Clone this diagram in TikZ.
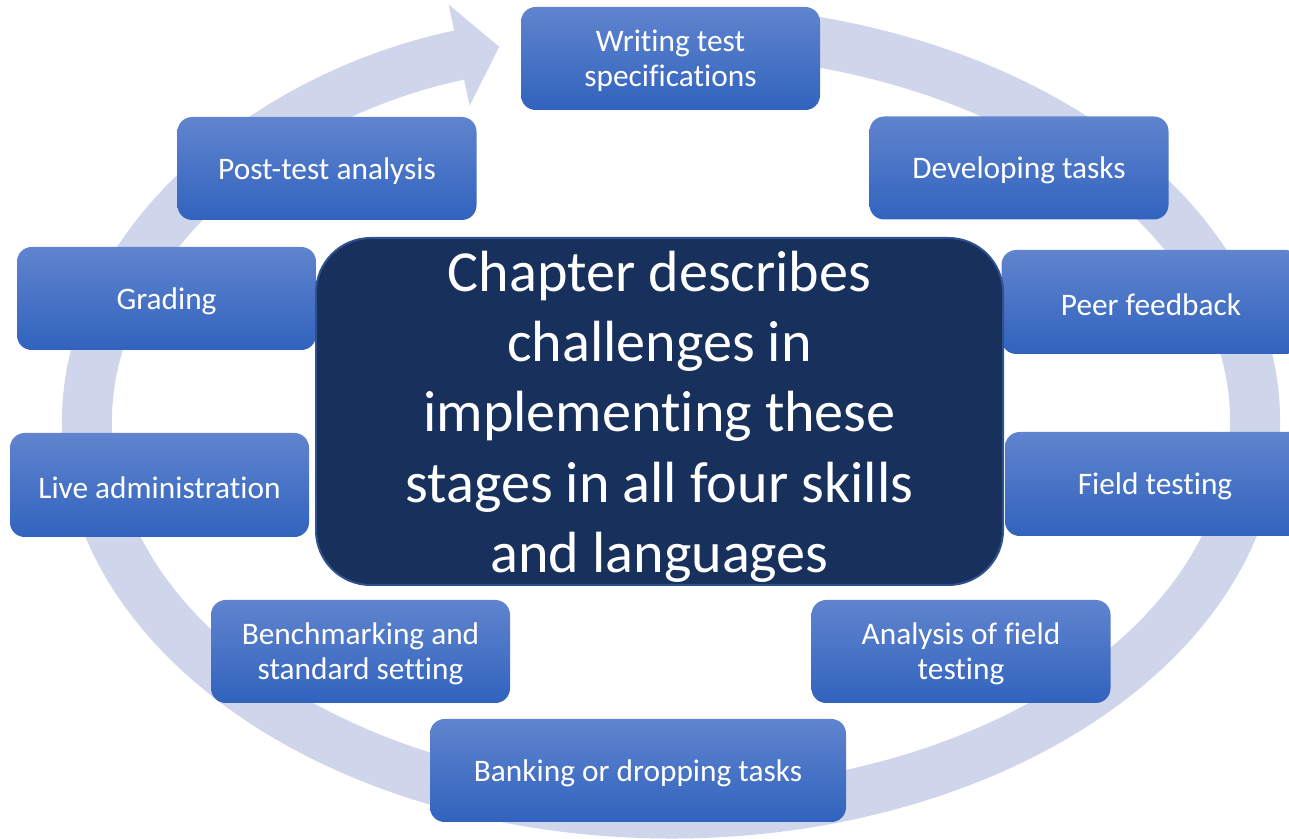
\documentclass[tikz,border=0pt]{standalone}
\usepackage{fontspec}
\setmainfont{Carlito}[Ligatures=NoCommon]
\usetikzlibrary{arrows.meta}
\definecolor{ringc}{RGB}{207,213,234}
\definecolor{boxtop}{RGB}{96,132,206}
\definecolor{boxbot}{RGB}{49,99,190}
\definecolor{navy}{RGB}{23,48,92}
\definecolor{navyedge}{RGB}{47,82,143}
% tall strut that pushes the first text line down a little
\newcommand\toplift[1]{\rule{0pt}{#1}}
\begin{document}
\begin{tikzpicture}[x=0.75pt,y=0.75pt,
  stage/.style={rounded corners=11pt, top color=boxtop, bottom color=boxbot,
    text=white, align=center, inner sep=0pt,
    font=\fontsize{23.5pt}{26pt}\selectfont,
    execute at begin node={\rule{0pt}{20pt}},
    minimum width=224.25pt, minimum height=77.25pt},
  hub/.style={rounded corners=41pt, fill=navy, draw=navyedge, line width=1.5pt,
    text=white, align=center, inner sep=0pt,
    font=\fontsize{43.6pt}{52.8pt}\selectfont,
    minimum width=515.25pt, minimum height=260.25pt},
  cycle/.style={draw=ringc, line width=37.5pt,
    -{Triangle[width=75.75pt,length=30.75pt]}}]
\useasboundingbox (0,0) rectangle (1289,839);
\clip (0,0) rectangle (1289,839);

% the cycle arrow, starting behind the first stage
\coordinate (ringstart) at (772.4,803.6);
\draw[cycle] (ringstart) arc[start angle=80, end angle=-252.9, x radius=438pt, y radius=294pt];

% stages around the cycle
\node[stage] (spec) at (670.5,780.5) {\toplift{19.5pt}Writing test\\specifications};
\node[stage] (dev) at (1019,671) {Developing tasks};
\node[stage, minimum height=78pt] (peer) at (1151,537) {Peer feedback};
\node[stage, minimum width=225pt, minimum height=78pt] (field) at (1155,355) {Field testing};
\node[stage] (afield) at (961,187.5) {\toplift{19.5pt}Analysis of field\\testing};
\node[stage, minimum width=312pt] (bank) at (638,68.5) {Banking or dropping tasks};
\node[stage] (bench) at (360.5,187.5) {\toplift{19.5pt}Benchmarking and\\standard setting};
\node[stage, minimum height=78pt] (live) at (159.5,354) {Live administration};
\node[stage] (grade) at (166.5,540.5) {Grading};
\node[stage] (post) at (327,670.5) {Post-test analysis};

% central statement
\node[hub] (center) at (659.5,427.5) {\toplift{38pt}Chapter describes\\challenges in\\implementing these\\stages in all four skills\\and languages};
\end{tikzpicture}
\end{document}
